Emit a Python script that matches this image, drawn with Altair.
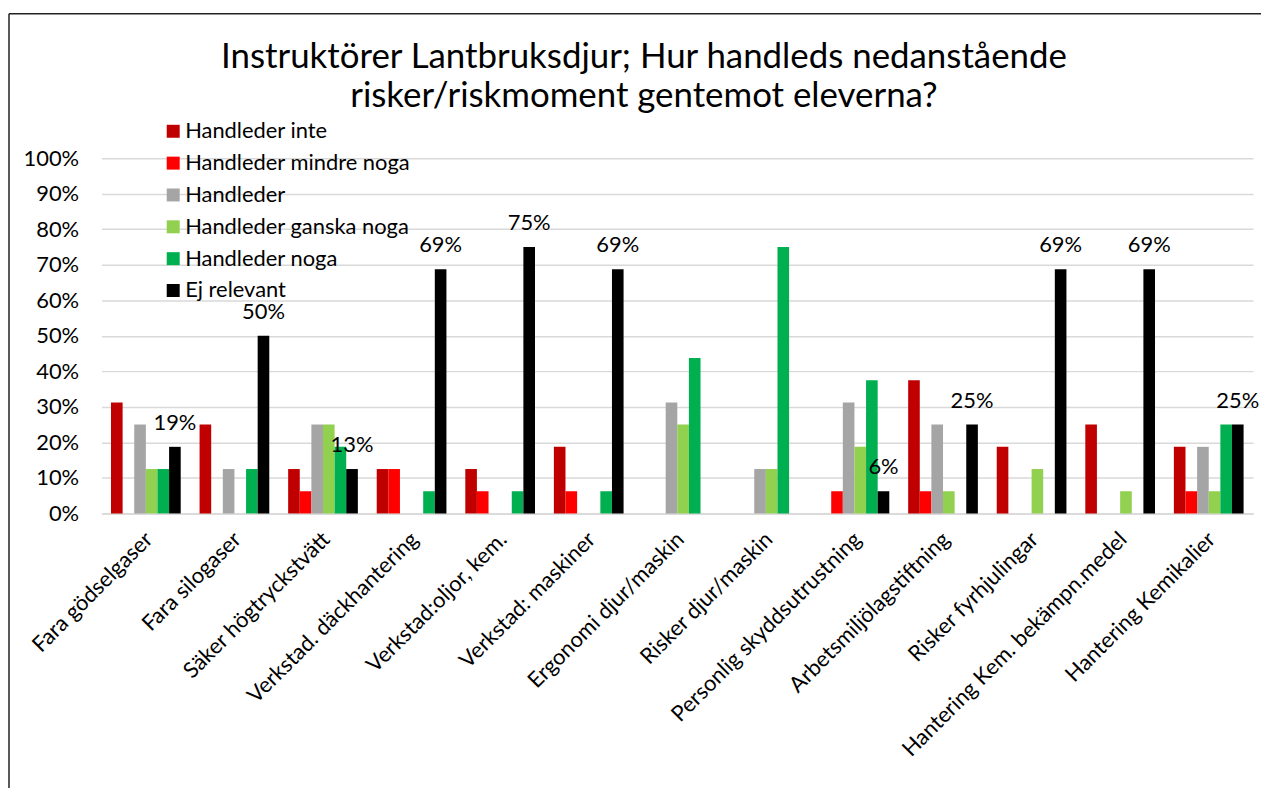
import altair as alt
import pandas as pd

title_lines = ["Instruktörer Lantbruksdjur; Hur handleds nedanstående",
               "risker/riskmoment gentemot eleverna?"]
categories = [
    "Fara gödselgaser", "Fara silogaser", "Säker högtryckstvätt",
    "Verkstad. däckhantering", "Verkstad:oljor, kem.", "Verkstad: maskiner",
    "Ergonomi djur/maskin", "Risker djur/maskin", "Personlig skyddsutrustning",
    "Arbetsmiljölagstiftning", "Risker fyrhjulingar",
    "Hantering Kem. bekämpn.medel", "Hantering Kemikalier",
]
series = ["Handleder inte", "Handleder mindre noga", "Handleder",
          "Handleder ganska noga", "Handleder noga", "Ej relevant"]
colors = ["#C00000", "#FF0000", "#A5A5A5", "#92D050", "#00B050", "#000000"]
y_ticks = [0.0, 0.1, 0.2, 0.3, 0.4, 0.5, 0.6, 0.7, 0.8, 0.9, 1.0]

handleder_inte = [0.3125, 0.25, 0.125, 0.125, 0.125, 0.1875, 0.0, 0.0, 0.0, 0.375, 0.1875, 0.25, 0.1875]
handleder_mindre_noga = [0.0, 0.0, 0.0625, 0.125, 0.0625, 0.0625, 0.0, 0.0, 0.0625, 0.0625, 0.0, 0.0, 0.0625]
handleder = [0.25, 0.125, 0.25, 0.0, 0.0, 0.0, 0.3125, 0.125, 0.3125, 0.25, 0.0, 0.0, 0.1875]
handleder_ganska_noga = [0.125, 0.0, 0.25, 0.0, 0.0, 0.0, 0.25, 0.125, 0.1875, 0.0625, 0.125, 0.0625, 0.0625]
handleder_noga = [0.125, 0.125, 0.1875, 0.0625, 0.0625, 0.0625, 0.4375, 0.75, 0.375, 0.0, 0.0, 0.0, 0.25]
ej_relevant = [0.1875, 0.5, 0.125, 0.6875, 0.75, 0.6875, 0.0, 0.0, 0.0625, 0.25, 0.6875, 0.6875, 0.25]

values = [handleder_inte, handleder_mindre_noga, handleder,
          handleder_ganska_noga, handleder_noga, ej_relevant]

rows = []
for s, vals in zip(series, values):
    for c, v in zip(categories, vals):
        rows.append({"kategori": c, "serie": s, "andel": v})
df = pd.DataFrame(rows)

FONT = "Lato"
FS = 22
W, H = 1157, 357

x_enc = alt.X("kategori:N", sort=categories, title=None,
              scale=alt.Scale(paddingInner=0.213, paddingOuter=0.1067),
              axis=alt.Axis(labelAngle=-45, labelFontSize=FS, labelFont=FONT,
                            labelColor="#000000", ticks=False, domainColor="#D9D9D9",
                            domainWidth=1.5, labelPadding=15, labelOffset=-4, labelLimit=500))
xoff_enc = alt.XOffset("serie:N", sort=series,
                       scale=alt.Scale(domain=series, paddingInner=0, paddingOuter=0))
y_enc = alt.Y("andel:Q", title=None,
              scale=alt.Scale(domain=[0, 1], nice=False),
              axis=alt.Axis(format=".0%", values=y_ticks, labelOverlap=False,
                            labelFontSize=FS, labelFont=FONT, labelColor="#000000",
                            ticks=False, domain=False, grid=True, gridColor="#D9D9D9",
                            gridWidth=1.5, labelPadding=23))

bars = alt.Chart(df).mark_bar().encode(
    x=x_enc,
    xOffset=xoff_enc,
    y=y_enc,
    color=alt.Color("serie:N", sort=series,
                    scale=alt.Scale(domain=series, range=colors),
                    legend=alt.Legend(title=None, orient="none", legendX=61, legendY=-38,
                                      labelFontSize=FS, labelFont=FONT, labelColor="#000000",
                                      labelLimit=500,
                                      symbolType="square", symbolSize=170,
                                      symbolStrokeWidth=0, rowPadding=10,
                                      labelOffset=1)),
)

labels = alt.Chart(df).transform_filter(
    (alt.datum.serie == "Ej relevant") & (alt.datum.andel > 0)
).mark_text(fontSize=FS, font=FONT, color="#000000", dy=-17, baseline="alphabetic").encode(
    x=x_enc,
    xOffset=xoff_enc,
    y=y_enc,
    text=alt.Text("andel:Q", format=".0%"),
)

one = alt.Data(values=[{"k": 1}])
title_mark = alt.Chart(one).mark_text(
    text=title_lines, fontSize=35, font=FONT, color="#000000",
    align="center", baseline="alphabetic", lineHeight=40,
).encode(x=alt.value(545), y=alt.value(-91))

frame_left = alt.Chart(one).mark_rule(color="#222222", strokeWidth=1.5).encode(
    x=alt.value(-93), y=alt.value(-145), y2=alt.value(H + 400))
frame_top = alt.Chart(one).mark_rule(color="#222222", strokeWidth=1.5).encode(
    x=alt.value(-93), x2=alt.value(W + 100), y=alt.value(-145))

chart = alt.layer(bars, labels, title_mark, frame_left, frame_top).properties(
    width=W, height=H,
    autosize=alt.AutoSizeParams(type="none"),
    padding={"left": 94, "top": 149, "right": 8, "bottom": 274},
).configure_view(stroke=None)

chart.save("out.html", embed_options={"renderer": "svg", "actions": False})
